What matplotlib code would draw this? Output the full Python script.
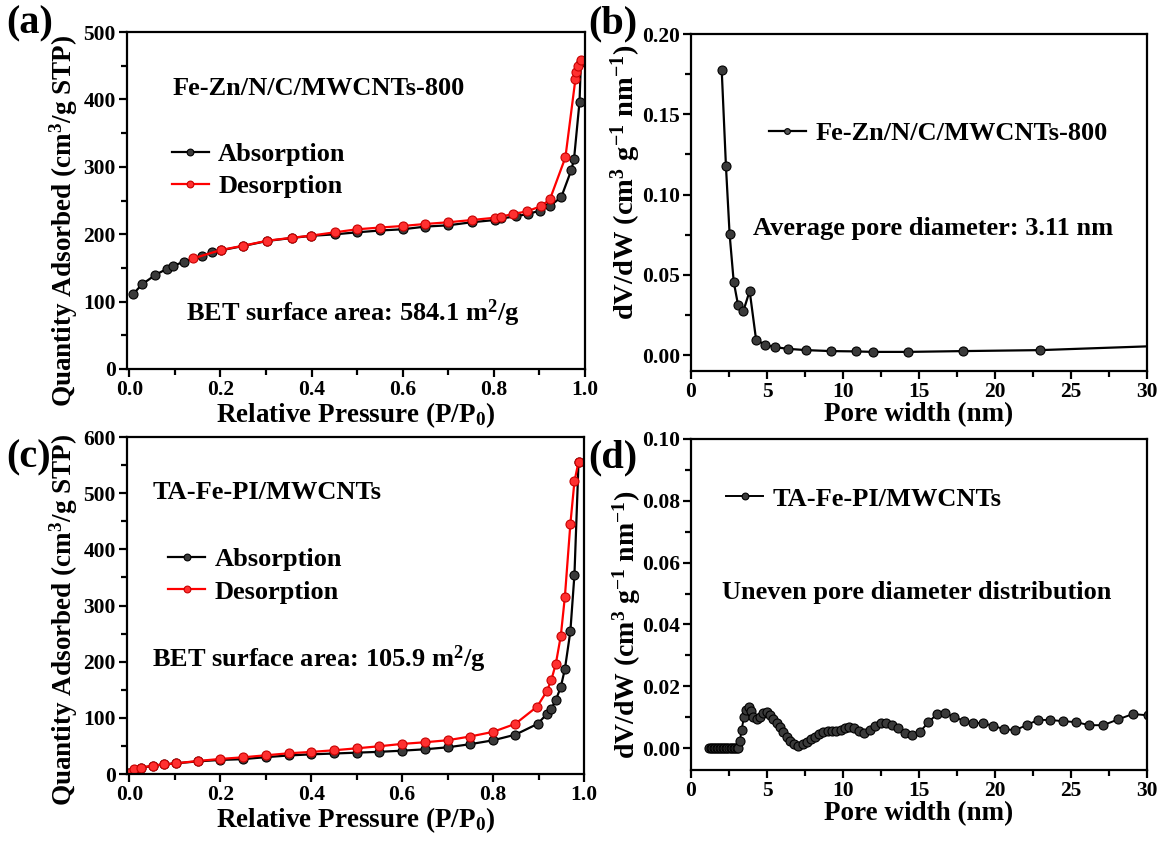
import numpy as np
import matplotlib
matplotlib.use("Agg")
import matplotlib.pyplot as plt
from matplotlib.ticker import MultipleLocator

plt.rcParams['font.family'] = ['Liberation Serif', 'DejaVu Serif']
plt.rcParams['font.weight'] = 'bold'
plt.rcParams['mathtext.fontset'] = 'custom'
plt.rcParams['mathtext.rm'] = 'Liberation Serif:bold'
plt.rcParams['mathtext.bf'] = 'Liberation Serif:bold'
plt.rcParams['mathtext.it'] = 'Liberation Serif:bold'
plt.rcParams['axes.linewidth'] = 1.6

# (a) Fe-Zn/N/C/MWCNTs-800 isotherm
a_ads_p = [0.008, 0.028, 0.057, 0.083, 0.097, 0.119, 0.160, 0.181, 0.201, 0.250, 0.303,
           0.358, 0.398, 0.451, 0.500, 0.551, 0.600, 0.650, 0.700, 0.751, 0.803, 0.815,
           0.849, 0.876, 0.902, 0.924, 0.948, 0.970, 0.976, 0.988, 0.991]
a_ads_q = [110.8, 125.6, 139.5, 148.8, 153.3, 158.8, 168.1, 173.1, 176.0, 182.5, 190.0,
           194.5, 197.5, 199.8, 202.8, 205.5, 207.3, 211.3, 213.2, 217.7, 221.1, 223.4,
           226.4, 230.4, 234.9, 242.3, 255.2, 295.2, 312.0, 396.6, 455.0]
a_des_p = [0.140, 0.201, 0.250, 0.303, 0.358, 0.398, 0.451, 0.500, 0.551, 0.600, 0.650,
           0.700, 0.751, 0.803, 0.815, 0.842, 0.873, 0.904, 0.923, 0.957, 0.979, 0.980,
           0.984, 0.991]
a_des_q = [164.0, 176.6, 182.9, 190.4, 194.8, 197.8, 202.8, 207.3, 209.9, 212.2, 215.2,
           217.7, 221.0, 224.5, 226.0, 230.0, 233.9, 241.8, 251.7, 314.0, 430.3, 440.0,
           450.0, 457.8]

# (b) Fe-Zn/N/C/MWCNTs-800 pore size distribution
b_w = [2.02, 2.30, 2.54, 2.81, 3.09, 3.44, 3.86, 4.28, 4.85, 5.55, 6.40, 7.57, 9.21,
       10.86, 11.95, 14.28, 17.89, 22.96, 33.5]
b_dv = [0.1776, 0.1175, 0.0753, 0.0457, 0.0315, 0.0274, 0.0399, 0.0097, 0.0064, 0.0049,
        0.0039, 0.0031, 0.0025, 0.0023, 0.0020, 0.0020, 0.0025, 0.0031, 0.0066]
b_marked = 18  # last value lies beyond the axis, line only

# (c) TA-Fe-PI/MWCNTs isotherm
c_ads_p = [0.000, 0.010, 0.025, 0.052, 0.076, 0.102, 0.151, 0.200, 0.251, 0.300, 0.351,
           0.400, 0.451, 0.501, 0.550, 0.600, 0.650, 0.700, 0.749, 0.800, 0.849, 0.898,
           0.918, 0.928, 0.938, 0.949, 0.958, 0.970, 0.979, 0.988]
c_ads_q = [2.0, 8.0, 11.0, 14.5, 17.0, 19.0, 22.5, 25.0, 26.5, 30.0, 33.0,
           35.0, 36.5, 38.0, 39.5, 41.5, 44.0, 47.5, 53.0, 60.0, 70.0, 89.3,
           106.5, 116.0, 131.5, 155.0, 187.0, 254.0, 355.0, 556.0]
c_des_p = [0.000, 0.010, 0.025, 0.052, 0.076, 0.102, 0.151, 0.200, 0.251, 0.300, 0.351,
           0.400, 0.451, 0.501, 0.550, 0.600, 0.650, 0.700, 0.749, 0.800, 0.849, 0.897,
           0.918, 0.928, 0.938, 0.949, 0.958, 0.970, 0.979, 0.988]
c_des_q = [2.4, 8.3, 11.3, 14.9, 17.3, 19.0, 23.2, 26.8, 29.8, 33.3, 36.9,
           39.3, 42.3, 45.8, 49.4, 53.6, 56.5, 60.1, 66.7, 75.0, 89.3, 120.0,
           147.0, 167.0, 196.0, 246.0, 316.0, 445.0, 521.0, 556.0]

# (d) TA-Fe-PI/MWCNTs pore size distribution
d_w = [1.2, 1.3, 1.4, 1.5, 1.6, 1.7, 1.8, 1.9, 2.0, 2.1, 2.2, 2.3, 2.4, 2.5, 2.6, 2.7,
       2.8, 2.9, 3.0, 3.1, 3.22, 3.33, 3.49, 3.62, 3.79, 3.95, 4.10, 4.32, 4.54, 4.76,
       4.98, 5.20, 5.41, 5.64, 5.86, 6.07, 6.30, 6.51, 6.78, 7.06, 7.35, 7.61, 7.89,
       8.16, 8.44, 8.70, 8.99, 9.28, 9.56, 9.85, 10.13, 10.41, 10.70, 11.03, 11.38,
       11.76, 12.11, 12.48, 12.83, 13.20, 13.62, 14.10, 14.56, 15.07, 15.61, 16.16,
       16.73, 17.32, 17.94, 18.57, 19.21, 19.89, 20.59, 21.32, 22.08, 22.81, 23.62,
       24.45, 25.33, 26.20, 27.12, 28.11, 29.06, 30.05]
d_dv = [0.0, 0.0, 0.0, 0.0, 0.0, 0.0, 0.0, 0.0, 0.0, 0.0, 0.0, 0.0, 0.0, 0.0, 0.0, 0.0,
        0.0, 0.0, 0.0, 0.0, 0.0024, 0.0060, 0.0101, 0.0123, 0.0134, 0.0121, 0.0101,
        0.0093, 0.0101, 0.0114, 0.0117, 0.0107, 0.0093, 0.0080, 0.0067, 0.0053, 0.0037,
        0.0024, 0.0012, 0.0006, 0.0013, 0.0021, 0.0028, 0.0037, 0.0045, 0.0051, 0.0054,
        0.0054, 0.0054, 0.0058, 0.0066, 0.0069, 0.0064, 0.0055, 0.0048, 0.0058, 0.0071,
        0.0080, 0.0082, 0.0075, 0.0064, 0.0050, 0.0043, 0.0053, 0.0083, 0.0109, 0.0112,
        0.0101, 0.0088, 0.0082, 0.0080, 0.0072, 0.0061, 0.0058, 0.0074, 0.0091, 0.0091,
        0.0087, 0.0084, 0.0074, 0.0074, 0.0093, 0.0110, 0.0106]

W, H = 1160, 841
fig = plt.figure(figsize=(W / 100, H / 100), dpi=100)


def box(l, r, t, b):
    return [l / W, 1 - b / H, (r - l) / W, (b - t) / H]


ax_a = fig.add_axes(box(127, 585, 32, 369))
ax_b = fig.add_axes(box(691, 1147, 34, 371))
ax_c = fig.add_axes(box(127, 584, 437, 774))
ax_d = fig.add_axes(box(691, 1147, 439, 770))

FS_TICK = 15.5
FS_LAB = 19.5
FS_TXT = 19
PSD_LAB = r'dV/dW (cm$^3$ g$^{-1}$ nm$^{-1}$)'

blk = dict(color='black', lw=1.6, marker='o', ms=6.5, mfc='#3a3a3a', mec='black', mew=0.8)
red = dict(color='#ff0000', lw=1.6, marker='o', ms=6.5, mfc='#ff3030', mec='#c80000', mew=0.8)


def style(ax):
    ax.tick_params(which='both', direction='out', top=False, right=False,
                   labelsize=FS_TICK, width=1.6, pad=2)
    ax.tick_params(which='major', length=6)
    ax.tick_params(which='minor', length=4)


def leg(ax, x, y, spacing):
    lg = ax.legend(loc='center left', bbox_to_anchor=(x, y), frameon=False,
                   prop={'size': FS_TXT, 'weight': 'bold'}, handlelength=1.4,
                   handletextpad=0.35, borderpad=0, borderaxespad=0,
                   labelspacing=spacing, markerscale=0.75)
    return lg


# ---- (a)
ax_a.plot(a_ads_p, a_ads_q, label='Absorption', **blk)
ax_a.plot(a_des_p, a_des_q, label='Desorption', **red)
ax_a.set_xlim(-0.005, 1.0)
ax_a.set_ylim(0, 500)
ax_a.xaxis.set_major_locator(MultipleLocator(0.2))
ax_a.xaxis.set_minor_locator(MultipleLocator(0.1))
ax_a.yaxis.set_major_locator(MultipleLocator(100))
ax_a.yaxis.set_minor_locator(MultipleLocator(50))
ax_a.xaxis.set_major_formatter(lambda v, p: f'{v:.1f}')
style(ax_a)
ax_a.set_xlabel(r'Relative Pressure (P/P$_0$)', fontsize=FS_LAB, fontweight='bold', labelpad=0)
ax_a.set_ylabel(r'Quantity Adsorbed (cm$^3$/g STP)', fontsize=FS_LAB, fontweight='bold')
ax_a.yaxis.set_label_coords(-0.103, 0.44)
ax_a.text(0.10, 0.831, 'Fe-Zn/N/C/MWCNTs-800', transform=ax_a.transAxes,
          fontsize=FS_TXT, fontweight='bold', va='center')
ax_a.text(0.128, 0.166, r'BET surface area: 584.1 m$^2$/g', transform=ax_a.transAxes,
          fontsize=FS_TXT, fontweight='bold', va='center')
leg(ax_a, 0.098, 0.59, 0.33)

# ---- (b)
ax_b.plot(b_w, b_dv, color='black', lw=1.6)
ax_b.plot(b_w[:b_marked], b_dv[:b_marked], ls='none', marker='o', ms=6.5,
          mfc='#3a3a3a', mec='black', mew=0.8)
ax_b.plot([], [], label='Fe-Zn/N/C/MWCNTs-800', color='black', lw=1.6, marker='o',
          ms=5.5, mfc='#555555', mec='black', mew=0.8)
ax_b.set_xlim(0, 30)
ax_b.set_ylim(-0.0099, 0.20)
ax_b.xaxis.set_major_locator(MultipleLocator(5))
ax_b.xaxis.set_minor_locator(MultipleLocator(2.5))
ax_b.yaxis.set_major_locator(MultipleLocator(0.05))
ax_b.yaxis.set_minor_locator(MultipleLocator(0.025))
ax_b.yaxis.set_major_formatter(lambda v, p: f'{v:.2f}')
style(ax_b)
ax_b.set_xlabel('Pore width (nm)', fontsize=FS_LAB, fontweight='bold', labelpad=0)
ax_b.set_ylabel(PSD_LAB, fontsize=20.5, fontweight='bold')
ax_b.yaxis.set_label_coords(-0.105, 0.56)
ax_b.text(0.136, 0.424, 'Average pore diameter: 3.11 nm', transform=ax_b.transAxes,
          fontsize=FS_TXT, fontweight='bold', va='center')
leg(ax_b, 0.171, 0.706, 0.25)

# ---- (c)
ax_c.plot(c_ads_p, c_ads_q, label='Absorption', **blk)
ax_c.plot(c_des_p, c_des_q, label='Desorption', **red)
ax_c.set_xlim(-0.005, 1.0)
ax_c.set_ylim(0, 600)
ax_c.xaxis.set_major_locator(MultipleLocator(0.2))
ax_c.xaxis.set_minor_locator(MultipleLocator(0.1))
ax_c.yaxis.set_major_locator(MultipleLocator(100))
ax_c.yaxis.set_minor_locator(MultipleLocator(50))
ax_c.xaxis.set_major_formatter(lambda v, p: f'{v:.1f}')
style(ax_c)
ax_c.set_xlabel(r'Relative Pressure (P/P$_0$)', fontsize=FS_LAB, fontweight='bold', labelpad=0)
ax_c.set_ylabel(r'Quantity Adsorbed (cm$^3$/g STP)', fontsize=FS_LAB, fontweight='bold')
ax_c.yaxis.set_label_coords(-0.103, 0.457)
ax_c.text(0.055, 0.834, 'TA-Fe-PI/MWCNTs', transform=ax_c.transAxes,
          fontsize=FS_TXT, fontweight='bold', va='center')
ax_c.text(0.054, 0.341, r'BET surface area: 105.9 m$^2$/g', transform=ax_c.transAxes,
          fontsize=FS_TXT, fontweight='bold', va='center')
leg(ax_c, 0.09, 0.588, 0.33)

# ---- (d)
ax_d.plot(d_w, d_dv, label='TA-Fe-PI/MWCNTs', color='black', lw=1.4, marker='o', ms=6.5,
          mfc='#3a3a3a', mec='black', mew=0.8)
ax_d.set_xlim(0, 30)
ax_d.set_ylim(-0.0071, 0.10)
ax_d.xaxis.set_major_locator(MultipleLocator(5))
ax_d.xaxis.set_minor_locator(MultipleLocator(2.5))
ax_d.yaxis.set_major_locator(MultipleLocator(0.02))
ax_d.yaxis.set_minor_locator(MultipleLocator(0.01))
ax_d.yaxis.set_major_formatter(lambda v, p: f'{v:.2f}')
style(ax_d)
ax_d.set_xlabel('Pore width (nm)', fontsize=FS_LAB, fontweight='bold', labelpad=0)
ax_d.set_ylabel(PSD_LAB, fontsize=20, fontweight='bold')
ax_d.yaxis.set_label_coords(-0.105, 0.44)
ax_d.text(0.067, 0.535, 'Uneven pore diameter distribution', transform=ax_d.transAxes,
          fontsize=FS_TXT, fontweight='bold', va='center')
leg(ax_d, 0.077, 0.819, 0.25)

# panel letters
for lbl, x, y in [('(a)', 6, 24), ('(b)', 588, 24), ('(c)', 6, 458), ('(d)', 588, 458)]:
    fig.text(x / W, 1 - y / H, lbl, fontsize=29, fontweight='bold', va='center', ha='left')

fig.savefig('out.png', dpi=100)
